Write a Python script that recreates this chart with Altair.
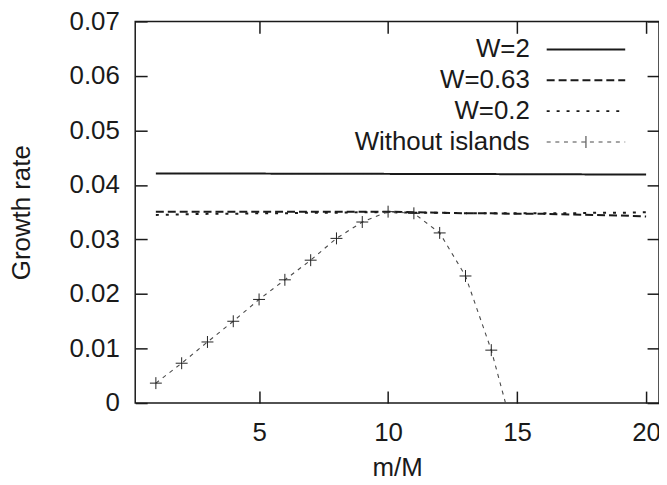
import altair as alt
import pandas as pd

# ---- data ----
m_over_M = list(range(1, 21))
w_2 = [0.0421, 0.0421, 0.0421, 0.04209, 0.04208, 0.04207, 0.04206, 0.04205, 0.04204, 0.04203,
       0.04202, 0.04201, 0.0420, 0.04199, 0.04197, 0.04196, 0.04195, 0.04193, 0.04192, 0.0419]
w_063 = [0.0351, 0.0351, 0.0351, 0.0351, 0.0351, 0.0351, 0.0351, 0.0351, 0.0351, 0.0351,
         0.0350, 0.0349, 0.0348, 0.0348, 0.0347, 0.0347, 0.0346, 0.0345, 0.0344, 0.0342]
w_02 = [0.0345, 0.0346, 0.0347, 0.0347, 0.0348, 0.0348, 0.0349, 0.0349, 0.0350, 0.0350,
        0.0349, 0.0349, 0.0348, 0.0348, 0.0348, 0.0348, 0.0348, 0.0349, 0.0349, 0.0350]
no_islands_x = list(range(1, 16))
no_islands = [0.00365, 0.0073, 0.0112, 0.0150, 0.0190, 0.0226, 0.0262, 0.0302, 0.0332, 0.0351,
              0.0348, 0.0312, 0.0233, 0.0097, -0.0079]

series_names = ["W=2", "W=0.63", "W=0.2", "Without islands"]
x_ticks = [5, 10, 15, 20]
y_ticks = [0, 0.01, 0.02, 0.03, 0.04, 0.05, 0.06, 0.07]

rows = []
for name, vals in zip(series_names[:3], [w_2, w_063, w_02]):
    for xv, yv in zip(m_over_M, vals):
        rows.append({"x": xv, "growth": yv, "series": name})
for xv, yv in zip(no_islands_x, no_islands):
    rows.append({"x": xv, "growth": yv, "series": series_names[3]})
df_lines = pd.DataFrame(rows)
df_pts = pd.DataFrame({"x": no_islands_x, "growth": no_islands})

# ---- styles ----
font = "Liberation Sans"
ink = "#1a1a1a"
gray = "#4a4a4a"
dash_styles = [[1, 0], [8, 4], [3, 7], [4, 4.7]]
line_widths = [2, 2, 2, 1.1]
line_colors = [ink, ink, ink, gray]
line_path = "M-7.9,0H7.9"
cross_line_path = "M-7.9,0H7.9M0,-1.2V1.2M0,-0.44V1.2M0,0.3V1.2"
legend_paths = [line_path, line_path, line_path, cross_line_path]

x_scale = alt.Scale(domain=[0.2, 20.5], nice=False, zero=False)
y_scale = alt.Scale(domain=[0, 0.07], nice=False, zero=False)

axis_common = dict(domain=False, ticks=True, tickSize=12, offset=-12, tickColor=ink,
                   tickWidth=1.5, grid=False, labelFont=font, labelFontSize=26,
                   labelColor=ink, labelFlush=False, titleFont=font, titleFontSize=26,
                   titleColor=ink, titleFontWeight="normal")

x_bottom = alt.Axis(values=x_ticks, orient="bottom", labelPadding=17, title="m/M",
                    titleX=263.5, titleY=77, titleBaseline="middle", titleAlign="center",
                    **axis_common)
y_left = alt.Axis(values=y_ticks, orient="left", labelPadding=16, format="~g",
                  title="Growth rate", titleX=-126, titleY=192, titleAngle=270,
                  titleBaseline="middle", titleAlign="center", **axis_common)
x_top = alt.Axis(values=x_ticks, orient="top", labels=False, title=None, **axis_common)
y_right = alt.Axis(values=y_ticks, orient="right", labels=False, title=None, **axis_common)

legend_common = dict(title=None, orient="none", legendX=440.5, legendY=15.3)

lines = alt.Chart(df_lines).mark_line(clip=True).encode(
    x=alt.X("x:Q", scale=x_scale, axis=x_bottom),
    y=alt.Y("growth:Q", scale=y_scale, axis=y_left),
    color=alt.Color("series:N", scale=alt.Scale(domain=series_names, range=line_colors),
                    legend=alt.Legend(**legend_common)),
    strokeDash=alt.StrokeDash("series:N", scale=alt.Scale(domain=series_names, range=dash_styles),
                              legend=alt.Legend(**legend_common)),
    strokeWidth=alt.StrokeWidth("series:N",
                                scale=alt.Scale(type="ordinal", domain=series_names, range=line_widths),
                                legend=alt.Legend(**legend_common)),
    order="x:Q",
)

points = alt.Chart(df_pts).mark_point(shape="M-1,0H1M0,-1V1", size=144, filled=False,
                                      color="#222222", strokeWidth=1, opacity=1, clip=True).encode(
    x=alt.X("x:Q", scale=x_scale, axis=x_top),
    y=alt.Y("growth:Q", scale=y_scale, axis=y_right),
)

legend_layer = alt.Chart(df_lines).transform_filter("false").mark_point(
    filled=False, opacity=1).encode(
    x=alt.X("x:Q", scale=x_scale, axis=None),
    y=alt.Y("growth:Q", scale=y_scale, axis=None),
    shape=alt.Shape("series:N", scale=alt.Scale(domain=series_names, range=legend_paths),
                    legend=alt.Legend(**legend_common)),
)

chart = alt.layer(lines, points, legend_layer).resolve_axis(
    x="independent", y="independent"
).properties(
    width=527, height=384,
    padding={"left": 128, "top": 12, "right": 0, "bottom": 80},
    autosize=alt.AutoSizeParams(type="none"),
).configure_view(stroke=ink, strokeWidth=1.5).configure_legend(
    labelAlign="right", labelOffset={"expr": "-69.5"}, labelFont=font, labelFontSize=26,
    labelColor=ink, labelLimit=400, symbolSize=100,
    symbolFillColor="transparent", padding=0, rowPadding=5, symbolOffset=0,
)

chart.save("out.html", embed_options={"renderer": "svg", "actions": False})
